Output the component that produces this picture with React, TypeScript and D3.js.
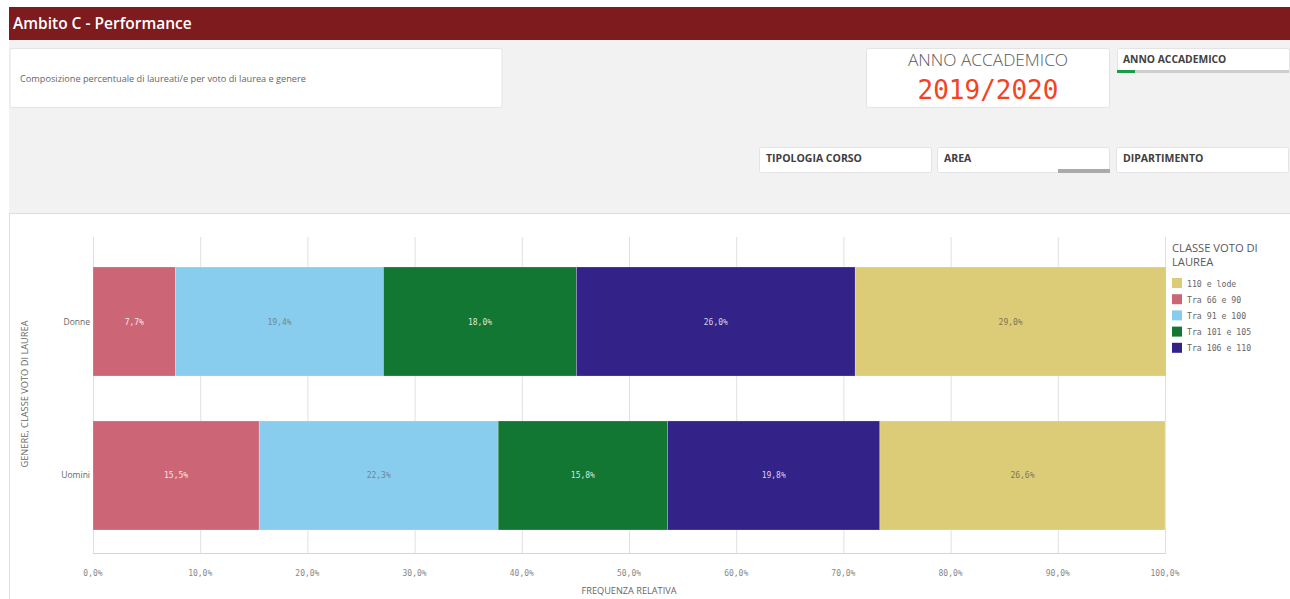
import React from "react";
import * as d3 from "d3";

const genders = ["Donne", "Uomini"];
const classes = ["Tra 66 e 90", "Tra 91 e 100", "Tra 101 e 105", "Tra 106 e 110", "110 e lode"];
const donneValues = [7.7, 19.4, 18.0, 26.0, 29.0];
const uominiValues = [15.5, 22.3, 15.8, 19.8, 26.6];
const legendOrder = ["110 e lode", "Tra 66 e 90", "Tra 91 e 100", "Tra 101 e 105", "Tra 106 e 110"];
const xTicks = [0, 10, 20, 30, 40, 50, 60, 70, 80, 90, 100];
const filterLabels = ["TIPOLOGIA CORSO", "AREA", "DIPARTIMENTO"];

const colors: Record<string, string> = {
  "Tra 66 e 90": "#cc6677",
  "Tra 91 e 100": "#88ccee",
  "Tra 101 e 105": "#117733",
  "Tra 106 e 110": "#332288",
  "110 e lode": "#ddcc77",
};
const labelColors: Record<string, string> = {
  "Tra 66 e 90": "#f4e6e8",
  "Tra 91 e 100": "#6f8894",
  "Tra 101 e 105": "#d9e6dc",
  "Tra 106 e 110": "#d6d3e8",
  "110 e lode": "#7d7650",
};

const W = 1290;
const H = 599;
const SANS = "'Open Sans', 'Noto Sans', sans-serif";
const MONO = "'DejaVu Sans Mono', monospace";
const fmt = (v: number) => v.toFixed(1).replace(".", ",") + "%";

export default function App() {
  const x = d3.scaleLinear().domain([0, 100]).range([93, 1165]);
  const y = d3.scaleBand().domain(genders).range([236.2, 560.8]).paddingInner(0.292).paddingOuter(0.2);
  const table = genders.map((g, i) => {
    const vals = i === 0 ? donneValues : uominiValues;
    const row: Record<string, any> = { genere: g };
    classes.forEach((c, j) => (row[c] = vals[j]));
    return row;
  });
  const stacked = d3.stack<any>().keys(classes)(table);

  return (
    <svg width={W} height={H} style={{ position: "absolute", left: 0, top: 0, background: "#ffffff" }}>
      <rect x={0} y={0} width={W} height={H} fill="#ffffff" />
      <rect x={9} y={40} width={W - 9} height={175} fill="#f2f2f2" />
      {/* header */}
      <rect x={9} y={7} width={W - 9} height={33} fill="#7e1b1e" />
      <text x={13} y={29} fill="#ffffff" fontFamily={SANS} fontSize={15.5} fontWeight={600}>
        Ambito C - Performance
      </text>

      {/* description box */}
      <rect x={10} y={48.5} width={492} height={59} rx={2} fill="#ffffff" stroke="#e3e3e3" />
      <text x={20} y={82} fill="#666" fontFamily={SANS} fontSize={9.2}>
        Composizione percentuale di laureati/e per voto di laurea e genere
      </text>

      {/* KPI */}
      <rect x={866.5} y={48.5} width={243} height={59} rx={2} fill="#ffffff" stroke="#e3e3e3" />
      <text x={988} y={66} textAnchor="middle" fill="#595959" fontFamily={SANS} fontSize={17.3} fontWeight={300}>
        ANNO ACCADEMICO
      </text>
      <text x={988} y={99} textAnchor="middle" fill="#f5421f" fontFamily={MONO} fontSize={26}>
        2019/2020
      </text>

      {/* filter ANNO ACCADEMICO */}
      <rect x={1117.5} y={48.5} width={172} height={24} rx={2} fill="#ffffff" stroke="#e3e3e3" />
      <text x={1123} y={63} fill="#404040" fontFamily={SANS} fontSize={10.3} fontWeight={700}>
        ANNO ACCADEMICO
      </text>
      <rect x={1117} y={70} width={172} height={3} fill="#cfcfcf" />
      <rect x={1117} y={70} width={18} height={3} fill="#1a9a4a" />

      {/* other filters */}
      {filterLabels.map((f, i) => {
        const fx = [759, 937, 1116][i];
        return (
          <g key={f}>
            <rect x={fx + 0.5} y={147.5} width={172} height={25} rx={2} fill="#ffffff" stroke="#e3e3e3" />
            <text x={fx + 7} y={162} fill="#404040" fontFamily={SANS} fontSize={10.5} fontWeight={700}>
              {f}
            </text>
            {i === 1 && <rect x={fx + 121} y={169} width={52} height={4} fill="#aaaaaa" />}
          </g>
        );
      })}

      {/* chart panel */}
      <rect x={9.5} y={213.5} width={W - 9} height={H} fill="#ffffff" stroke="#dddddd" />

      {/* gridlines */}
      {xTicks.map((t) => (
        <line key={t} x1={x(t) + 0.5} x2={x(t) + 0.5} y1={237} y2={554} stroke="#e0e0e0" strokeWidth={1} />
      ))}
      <line x1={93} x2={1166} y1={553.5} y2={553.5} stroke="#d6d6d6" strokeWidth={1} />

      {/* bars */}
      {stacked.map((layer) => (
        <g key={layer.key}>
          {layer.map((d, i) => {
            const g = genders[i];
            const x0 = x(d[0]);
            const x1 = x(d[1]);
            const by = y(g)!;
            return (
              <g key={g}>
                <rect x={x0} y={by} width={x1 - x0} height={y.bandwidth()} fill={colors[layer.key]} stroke="#ffffff" strokeOpacity={0.35} strokeWidth={0.6} />
                <text
                  x={(x0 + x1) / 2}
                  y={by + y.bandwidth() / 2 + 3}
                  textAnchor="middle"
                  fill={labelColors[layer.key]}
                  fontFamily={MONO}
                  fontSize={8}
                >
                  {fmt(d[1] - d[0])}
                </text>
              </g>
            );
          })}
        </g>
      ))}

      {/* y labels */}
      {genders.map((g) => (
        <text key={g} x={90} y={y(g)! + y.bandwidth() / 2 + 3} textAnchor="end" fill="#666" fontFamily={SANS} fontSize={8.5}>
          {g}
        </text>
      ))}
      <text
        transform="translate(28,394) rotate(-90)"
        textAnchor="middle"
        fill="#666"
        fontFamily={SANS}
        fontSize={8.5}
        textLength={147}
        lengthAdjust="spacingAndGlyphs"
      >
        GENERE, CLASSE VOTO DI LAUREA
      </text>

      {/* x ticks */}
      {xTicks.map((t) => (
        <text key={t} x={x(t)} y={576} textAnchor="middle" fill="#888" fontFamily={MONO} fontSize={8}>
          {fmt(t)}
        </text>
      ))}
      <text x={629} y={594} textAnchor="middle" fill="#666" fontFamily={SANS} fontSize={8.5} textLength={95} lengthAdjust="spacingAndGlyphs">
        FREQUENZA RELATIVA
      </text>

      {/* legend */}
      <text x={1172} y={252} fill="#595959" fontFamily={SANS} fontSize={11.2}>
        CLASSE VOTO DI
      </text>
      <text x={1172} y={266} fill="#595959" fontFamily={SANS} fontSize={11.2}>
        LAUREA
      </text>
      {legendOrder.map((c, i) => (
        <g key={c} transform={`translate(1172, ${278 + i * 16.2})`}>
          <rect x={0} y={0} width={10} height={10} fill={colors[c]} />
          <text x={15} y={8.5} fill="#666" fontFamily={MONO} fontSize={8.2}>
            {c}
          </text>
        </g>
      ))}
    </svg>
  );
}
